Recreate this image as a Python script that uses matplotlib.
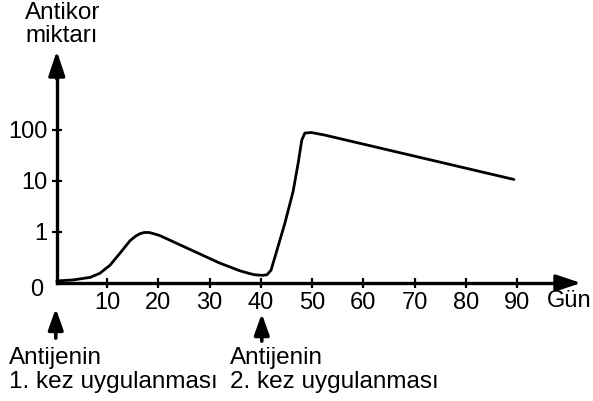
#antikor miktarı - gün grafiği
import matplotlib
matplotlib.use('Agg')
import matplotlib.pyplot as plt

plt.rcParams['font.family'] = ['Liberation Sans', 'DejaVu Sans']

# okunan değerler (y: 0,1,10,100 basamakları eşit aralıklı)
gun = [0.2, 3.4, 6.7, 8.6, 10.6, 12.5, 14.5, 15.6, 16.5, 17.3, 18.2, 19.0, 20.3, 24.2, 28.1,
       32.0, 35.9, 38.0, 38.9, 40.3, 41.2, 42.0, 42.8, 44.7, 46.3, 47.3, 48.0, 48.6, 49.9, 52.5, 89.4]
seviye = [0.04, 0.06, 0.11, 0.19, 0.35, 0.58, 0.83, 0.92, 0.97, 0.99, 0.99, 0.97, 0.93, 0.75, 0.57,
          0.39, 0.24, 0.18, 0.16, 0.15, 0.16, 0.25, 0.52, 1.17, 1.79, 2.35, 2.8, 2.94, 2.95, 2.9, 2.03]
x_ticks = [10, 20, 30, 40, 50, 60, 70, 80, 90]
y_ticks = [1, 2, 3]
y_labels = ['1', '10', '100']

fig = plt.figure(figsize=(5.93, 4.01), dpi=100)
ax = fig.add_axes([0, 0, 1, 1])
ax.set_xlim(-10.88, 104.83)
ax.set_ylim(-2.314, 5.549)

for s in ['top', 'right']:
    ax.spines[s].set_visible(False)
ax.spines['left'].set_position(('data', 0.2))
ax.spines['bottom'].set_position(('data', 0))
ax.spines['left'].set_bounds(0, 4.2)
ax.spines['bottom'].set_bounds(0.2, 100.0)
ax.spines['left'].set_linewidth(2.4)
ax.spines['bottom'].set_linewidth(2.4)

ax.set_xticks(x_ticks)
ax.set_xticklabels([str(t) for t in x_ticks])
ax.set_yticks(y_ticks)
ax.set_yticklabels(y_labels)
ax.tick_params(axis='both', direction='inout', length=7, width=1.6, labelsize=17)
ax.tick_params(axis='x', pad=3)
ax.tick_params(axis='y', pad=3)

# ok uçları
head = '-|>,head_length=0.75,head_width=0.25'
ax.annotate('', xy=(0.2, 4.55), xytext=(0.2, 4.0),
            arrowprops=dict(arrowstyle=head, mutation_scale=20, color='black',
                            lw=2.4, shrinkA=0, shrinkB=0))
ax.annotate('', xy=(102.5, 0), xytext=(98, 0),
            arrowprops=dict(arrowstyle=head, mutation_scale=20, color='black',
                            lw=2.4, shrinkA=0, shrinkB=0))

ax.plot(gun, seviye, color='black', lw=2.0, solid_capstyle='round', solid_joinstyle='round')

ax.text(-3.66, -0.14, '0', fontsize=17, ha='center', va='center')
ax.text(95.8, -0.36, 'Gün', fontsize=17, ha='left', va='center')
ax.text(-6.0, 5.17, 'Antikor', fontsize=17.5, ha='left', va='baseline')
ax.text(-6.0, 4.72, 'miktarı', fontsize=17.5, ha='left', va='baseline')

# antijen uygulama okları
for xa, y0, y1 in [(0, -1.08, -0.5), (40.2, -1.14, -0.6)]:
    ax.annotate('', xy=(xa, y1), xytext=(xa, y0),
                arrowprops=dict(arrowstyle='-|>,head_length=0.7,head_width=0.25',
                                mutation_scale=18, color='black', lw=2.6,
                                shrinkA=0, shrinkB=0))

ax.text(-9.12, -1.59, 'Antijenin', fontsize=17.5, ha='left', va='baseline')
ax.text(-9.12, -2.06, '1. kez uygulanması', fontsize=17.5, ha='left', va='baseline')
ax.text(34.0, -1.59, 'Antijenin', fontsize=17.5, ha='left', va='baseline')
ax.text(34.0, -2.06, '2. kez uygulanması', fontsize=17.5, ha='left', va='baseline')

fig.savefig('out.png', dpi=100)
